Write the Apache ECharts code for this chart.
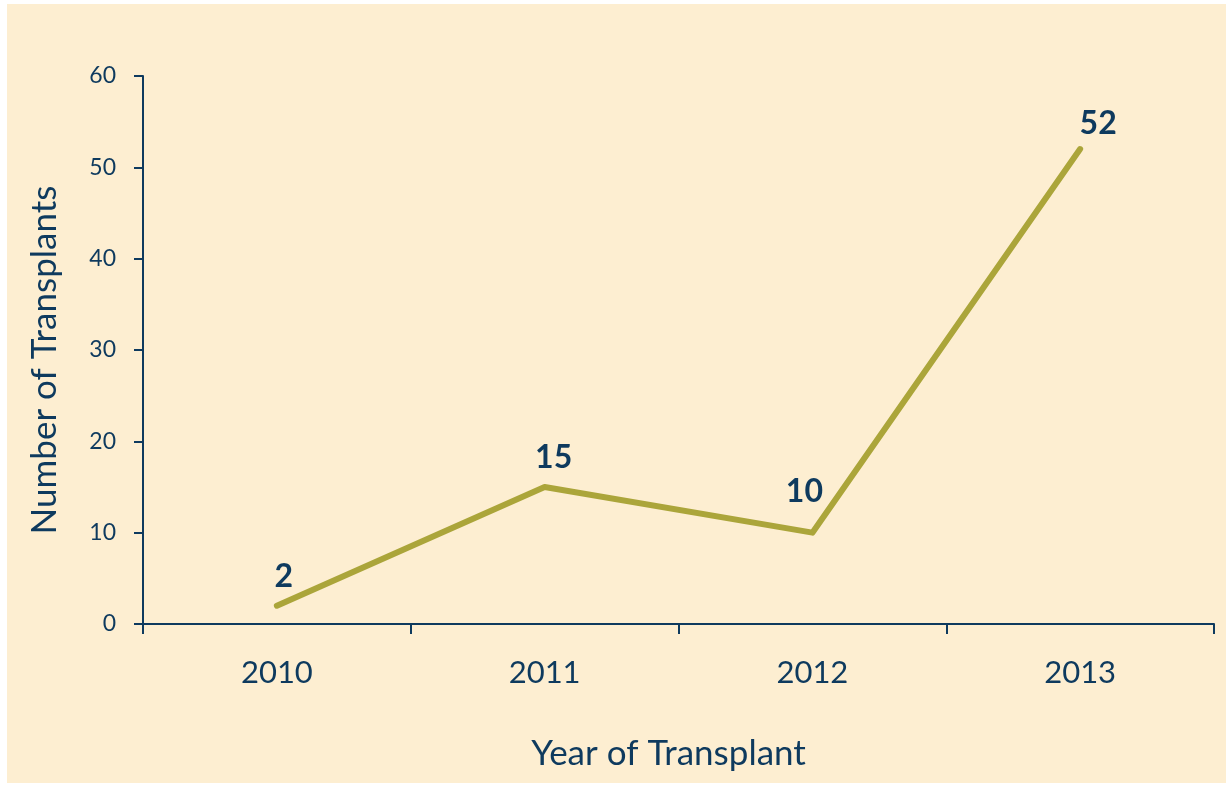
<!DOCTYPE html>
<html>
<head>
<meta charset="utf-8">
<script src="https://cdn.jsdelivr.net/npm/echarts@6/dist/echarts.min.js"></script>
<style>
  html, body { margin: 0; padding: 0; background: #ffffff; }
  #bg { position: absolute; left: 7px; top: 4px; right: 0; bottom: 3px; background: #fdeed1; }
  #chart { position: absolute; left: 0; top: 0; width: 1226px; height: 786px; }
</style>
</head>
<body>
<div id="bg"></div>
<div id="chart"></div>
<script>
  // data
  var years = ['2010', '2011', '2012', '2013'];
  var transplants = [2, 15, 10, 52];
  var yTicks = [0, 60, 10]; // min, max, interval

  // label nudges (px), one per point
  var labelShift = [[7, -2], [9, -2], [-8, -14], [18, 2]];

  var navy = '#0e3a5e';
  var olive = '#aba53a';
  var font = 'Lato';

  var chart = echarts.init(document.getElementById('chart'));
  chart.setOption({
    backgroundColor: 'transparent',
    animation: false,
    textStyle: { fontFamily: font, color: navy },
    grid: { left: 143, top: 76, right: 12, bottom: 162 },
    xAxis: {
      type: 'category',
      data: years,
      boundaryGap: true,
      name: 'Year of Transplant',
      nameLocation: 'middle',
      nameGap: 112,
      nameTextStyle: { fontFamily: font, fontSize: 35, color: navy, padding: [0, 20, 0, 0] },
      axisLine: { lineStyle: { color: navy, width: 2 } },
      axisTick: { show: true, length: 10, lineStyle: { color: navy, width: 2 } },
      axisLabel: { fontFamily: font, fontSize: 31, color: navy, margin: 33 },
      splitLine: { show: false }
    },
    yAxis: {
      type: 'value',
      min: yTicks[0],
      max: yTicks[1],
      interval: yTicks[2],
      name: 'Number of Transplants',
      nameLocation: 'middle',
      nameGap: 81,
      nameTextStyle: { fontFamily: font, fontSize: 35, color: navy, padding: [0, 20, 0, 0] },
      axisLine: { show: true, lineStyle: { color: navy, width: 2 } },
      axisTick: { show: true, length: 9, lineStyle: { color: navy, width: 2 } },
      axisLabel: { fontFamily: font, fontSize: 23, color: navy, margin: 27 },
      splitLine: { show: false }
    },
    series: [{
      type: 'line',
      data: transplants.map(function (v, i) {
        return { value: v, label: { offset: labelShift[i] } };
      }),
      symbol: 'circle',
      symbolSize: 2,
      showSymbol: true,
      itemStyle: { color: olive },
      lineStyle: { color: olive, width: 6, cap: 'round', join: 'round' },
      label: {
        show: true,
        position: 'top',
        distance: 10,
        fontFamily: font,
        fontSize: 32,
        fontWeight: 'bold',
        color: navy
      }
    }]
  });
</script>
</body>
</html>
